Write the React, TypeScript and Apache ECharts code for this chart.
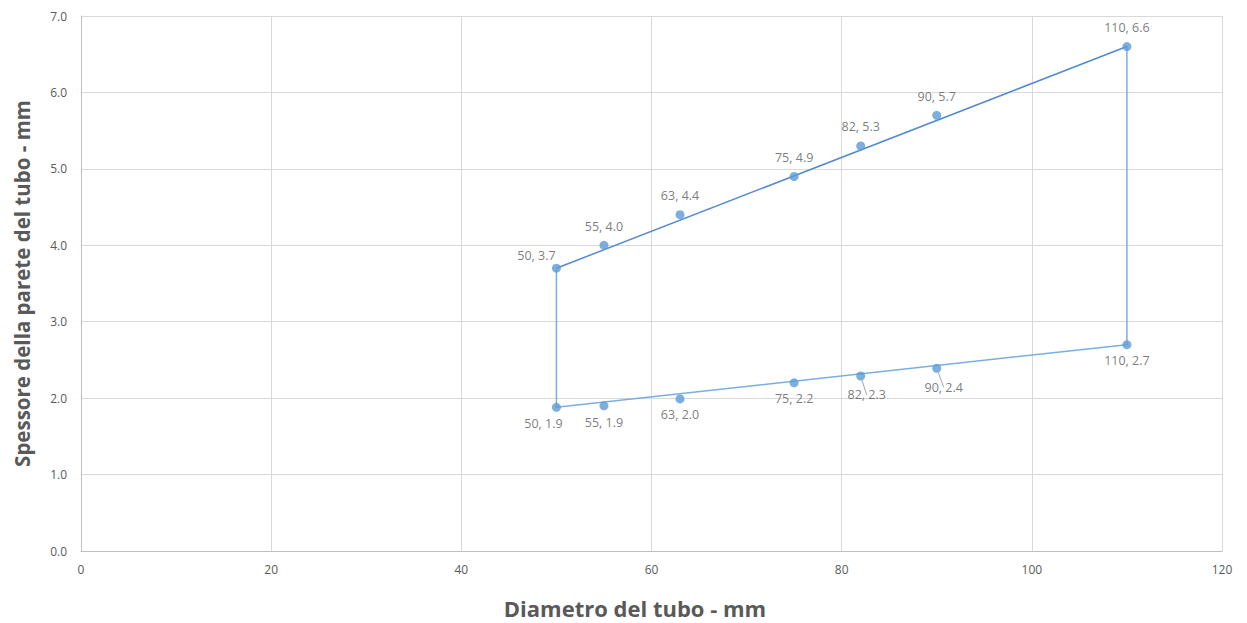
import React, { useEffect, useRef } from "react";
import * as echarts from "echarts";

const upperX = [50, 55, 63, 75, 82, 90, 110];
const upperY = [3.7, 4.0, 4.4, 4.9, 5.3, 5.7, 6.6];
const lowerX = [50, 55, 63, 75, 82, 90, 110];
const lowerY = [1.88, 1.9, 1.99, 2.2, 2.29, 2.39, 2.7];
const lowerLabels = ["1.9", "1.9", "2.0", "2.2", "2.3", "2.4", "2.7"];
const upperLabels = ["3.7", "4.0", "4.4", "4.9", "5.3", "5.7", "6.6"];
const xTicks = [0, 20, 40, 60, 80, 100, 120];
const yTicks = [0, 1, 2, 3, 4, 5, 6, 7];
const xTitle = "Diametro del tubo - mm";
const yTitle = "Spessore della parete del tubo - mm";

// label placement offsets (style only)
const upperOffsets = [[-20, 6], [0, 0], [0, 0], [0, 0], [0, 0], [0, 0], [0, 0]];
const lowerOffsets = [[-13, 0], [0, 1], [0, 0], [0, 0], [6, 3], [7, 3], [0, 0]];
const lowerLeader = [false, false, false, false, true, true, false];

const FONT = "'Open Sans', 'Liberation Sans', sans-serif";
const TXT = "#595959";

export default function App() {
  const ref = useRef<HTMLDivElement>(null);
  useEffect(() => {
    document.body.style.margin = "0";
    const chart = echarts.init(ref.current!, undefined, { renderer: "svg" });
    const upperData = upperX.map((x, i) => ({
      value: [x, upperY[i]],
      label: {
        show: true,
        position: "top",
        distance: 8,
        offset: upperOffsets[i],
        formatter: `${x}, ${upperLabels[i]}`,
      },
    }));
    const lowerData = lowerX.map((x, i) => ({
      value: [x, lowerY[i]],
      label: {
        show: true,
        position: "bottom",
        distance: 5,
        offset: lowerOffsets[i],
        formatter: `${x}, ${lowerLabels[i]}`,
      },
      labelLine: { show: lowerLeader[i] },
    }));
    const labelStyle = { color: TXT, fontSize: 12.5, fontFamily: FONT };
    chart.setOption({
      animation: false,
      backgroundColor: "#ffffff",
      grid: { left: 81, right: 25, top: 16, bottom: 72, containLabel: false },
      graphic: [
        {
          type: "text",
          x: 635,
          y: 608,
          style: {
            text: xTitle,
            textAlign: "center",
            textVerticalAlign: "middle",
            fill: TXT,
            fontSize: 22,
            fontWeight: "bold",
            fontFamily: FONT,
          },
        },
      ],
      xAxis: {
        type: "value",
        min: xTicks[0],
        max: xTicks[xTicks.length - 1],
        interval: 20,
        axisLine: { show: true, lineStyle: { color: "#bfbfbf" } },
        axisTick: { show: false },
        axisLabel: { color: TXT, fontSize: 12, fontFamily: FONT, margin: 12 },
        splitLine: { show: true, lineStyle: { color: "#d9d9d9" } },
      },
      yAxis: {
        type: "value",
        min: yTicks[0],
        max: yTicks[yTicks.length - 1],
        interval: 1,
        name: yTitle,
        nameLocation: "middle",
        nameGap: 49,
        nameTextStyle: { color: TXT, fontSize: 20.5, fontWeight: "bold", fontFamily: FONT },
        axisLine: { show: true, lineStyle: { color: "#bfbfbf" } },
        axisTick: { show: false },
        axisLabel: {
          color: TXT,
          fontSize: 12,
          fontFamily: FONT,
          margin: 14,
          formatter: (v: number) => v.toFixed(1),
        },
        splitLine: { show: true, lineStyle: { color: "#d9d9d9" } },
      },
      series: [
        {
          type: "line",
          data: [
            [upperX[0], upperY[0]],
            [lowerX[0], lowerY[0]],
            [lowerX[6], lowerY[6]],
            [upperX[6], upperY[6]],
          ],
          showSymbol: false,
          symbol: "none",
          lineStyle: { color: "#7aaee0", width: 1.5 },
          silent: true,
          z: 1,
        },
        {
          type: "line",
          data: [
            [upperX[0], upperY[0]],
            [upperX[6], upperY[6]],
          ],
          showSymbol: false,
          symbol: "none",
          lineStyle: { color: "#5289d4", width: 1.5 },
          silent: true,
          z: 1,
        },
        {
          type: "scatter",
          data: upperData,
          symbolSize: 9,
          itemStyle: { color: "#5b9bd5" },
          label: labelStyle,
          z: 3,
        },
        {
          type: "scatter",
          data: lowerData,
          symbolSize: 9,
          itemStyle: { color: "#5b9bd5" },
          label: labelStyle,
          labelLine: { show: false, lineStyle: { color: "#a6a6a6", width: 1 } },
          z: 3,
        },
      ],
    });
    return () => chart.dispose();
  }, []);
  return <div ref={ref} style={{ width: 1247, height: 623 }} />;
}
